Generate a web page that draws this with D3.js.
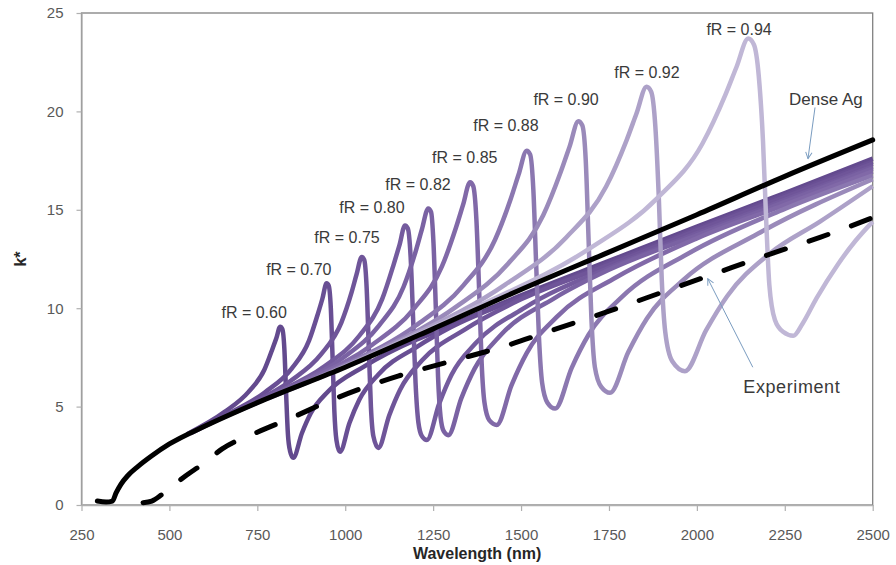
<!DOCTYPE html>
<html>
<head>
<meta charset="utf-8">
<script src="https://cdn.jsdelivr.net/npm/d3@7"></script>
<style>
body { margin: 0; background: #fff; }
text { font-family: "Liberation Sans", Arial, sans-serif; }
</style>
</head>
<body>
<div id="chart"></div>
<script>
// ---- data: [wavelength nm, k*] ----
var xTicks = [250, 500, 750, 1000, 1250, 1500, 1750, 2000, 2250, 2500]
var yTicks = [0, 5, 10, 15, 20, 25]

var denseAg = [[295,0.2],[320,0.15],[338,0.2],[348,0.6],[362,1.05],[382,1.5],[410,1.95],[450,2.5],[500,3.1],[600,4.0],[750,5.2],[1000,7.0],[1250,8.95],[1500,10.95],[1750,12.85],[2000,14.75],[2250,16.7],[2500,18.55]]

var experiment = [[425,0.12],[450,0.2],[480,0.55],[540,1.4],[600,2.15],[650,2.85],[750,3.7],[850,4.45],[950,5.25],[1050,5.95],[1150,6.55],[1300,7.3],[1450,8.05],[1600,8.95],[1750,9.85],[1900,10.8],[2050,11.75],[2200,12.7],[2350,13.6],[2500,14.6]]

var fr060 = [[550,3.6],[657,4.73],[725,5.75],[770,6.87],[792,7.88],[804,8.47],[815,9.06],[821,8.95],[827,7.9],[832,5.6],[837,3.6],[843,2.75],[852,2.4],[877,3.66],[902,4.66],[952,5.78],[1052,7.02],[1202,8.4],[1250,8.75],[1500,10.65],[1750,12.4],[2000,14.15],[2250,15.85],[2500,17.6]]
var fr070 = [[560,3.64],[647,4.45],[772,5.73],[847,6.92],[897,8.35],[922,9.7],[935,10.48],[947,11.27],[953,11.15],[959,10.0],[964,7.5],[969,4.8],[975,3.3],[985,2.7],[1012,4.17],[1040,5.35],[1095,6.65],[1205,8.05],[1300,9.03],[1500,10.55],[1750,12.3],[2000,14.05],[2250,15.75],[2500,17.45]]
var fr075 = [[600,4.02],[699,4.87],[844,6.3],[931,7.65],[989,9.27],[1018,10.8],[1032,11.7],[1047,12.6],[1054,12.45],[1061,11.0],[1067,8.0],[1073,5.0],[1080,3.5],[1094,2.9],[1125,4.55],[1156,5.86],[1218,7.34],[1342,8.94],[1500,10.45],[1750,12.2],[2000,13.95],[2250,15.65],[2500,17.35]]
var fr080 = [[650,4.42],[780,5.51],[942,7.06],[1040,8.6],[1105,10.46],[1137,12.18],[1154,13.19],[1170,14.2],[1178,14.05],[1186,12.6],[1193,9.5],[1200,6.2],[1208,4.2],[1218,3.5],[1232,3.3],[1267,5.14],[1302,6.61],[1372,8.24],[1512,10.04],[1750,12.05],[2000,13.8],[2250,15.5],[2500,17.2]]
var fr082 = [[680,4.66],[816,5.77],[991,7.44],[1096,9.12],[1166,11.09],[1201,12.93],[1218,14.0],[1236,15.07],[1244,14.9],[1251,13.3],[1258,9.8],[1264,6.5],[1271,4.5],[1280,3.75],[1293,3.55],[1330,5.42],[1368,6.93],[1443,8.65],[1593,10.49],[1750,11.95],[2000,13.7],[2250,15.4],[2500,17.1]]
var fr085 = [[720,4.98],[875,6.2],[1075,8.12],[1195,9.97],[1275,12.12],[1315,14.1],[1335,15.25],[1355,16.4],[1364,16.2],[1373,14.5],[1381,10.8],[1388,7.2],[1396,5.2],[1410,4.3],[1431,4.07],[1473,6.09],[1516,7.72],[1601,9.55],[1771,11.57],[2000,13.55],[2250,15.25],[2500,16.95]]
var fr088 = [[780,5.42],[976,6.93],[1201,9.12],[1336,11.16],[1426,13.48],[1471,15.57],[1493,16.79],[1516,18.0],[1526,17.8],[1535,16.0],[1543,12.2],[1551,8.5],[1560,6.2],[1575,5.2],[1597,4.9],[1644,6.97],[1692,8.65],[1787,10.57],[1977,12.79],[2250,15.05],[2500,16.75]]
var fr090 = [[850,5.92],[1063,7.6],[1313,10.04],[1463,12.26],[1563,14.72],[1613,16.93],[1638,18.21],[1663,19.5],[1674,19.3],[1684,17.5],[1692,13.5],[1700,9.5],[1710,7.0],[1728,6.0],[1753,5.7],[1805,7.77],[1858,9.48],[1963,11.46],[2173,13.78],[2500,16.55]]
var fr092 = [[920,6.42],[1167,8.41],[1455,11.2],[1627,13.57],[1742,16.18],[1800,18.53],[1828,19.88],[1857,21.25],[1870,21.0],[1882,19.2],[1892,15.5],[1900,11.5],[1910,8.8],[1930,7.3],[1966,6.8],[2026,8.87],[2086,10.61],[2206,12.76],[2350,14.4],[2500,16.2]]
var fr094 = [[980,6.86],[1366,10.0],[1691,12.99],[1886,15.57],[2016,18.37],[2081,20.84],[2113,22.27],[2146,23.7],[2162,23.4],[2176,21.8],[2188,18.5],[2197,14.5],[2206,11.2],[2222,9.4],[2245,8.8],[2274,8.6],[2300,9.2],[2340,10.5],[2400,12.2],[2450,13.4],[2500,14.4]]

var fRNames = ['fR = 0.60','fR = 0.70','fR = 0.75','fR = 0.80','fR = 0.82','fR = 0.85','fR = 0.88','fR = 0.90','fR = 0.92','fR = 0.94']
var fRSeries = [fr060, fr070, fr075, fr080, fr082, fr085, fr088, fr090, fr092, fr094]

// ---- styling / placement ----
var fRColors = ['#634a8e','#694f94','#6f5599','#745b9e','#7a62a3','#8169a8','#8b77b0','#9a8aba','#ada1c8','#c0b7d6']
// label anchors in data units (wavelength, k*)
var fRLabelPos = [[741,9.81],[868,11.99],[1005,13.62],[1076,15.14],[1207,16.31],[1340,17.68],[1457,19.31],[1628,20.63],[1858,22.0],[2120,24.19]]

var width = 896, height = 565

var x = d3.scaleLinear().domain([250, 2500]).range([81.5, 872.7])
var y = d3.scaleLinear().domain([0, 25]).range([505, 13])

var svg = d3.select('#chart').append('svg')
  .attr('width', width)
  .attr('height', height)

var defs = svg.append('defs')
defs.append('marker')
  .attr('id', 'arrow')
  .attr('viewBox', '0 0 10 10')
  .attr('refX', 9).attr('refY', 5)
  .attr('markerWidth', 8).attr('markerHeight', 8)
  .attr('orient', 'auto')
  .append('path')
  .attr('d', 'M1,1 L9,5 L1,9')
  .attr('fill', 'none')
  .attr('stroke', '#7a9cc0')
  .attr('stroke-width', 1.2)

// plot frame (top & right darker)
svg.append('rect')
  .attr('x', x(250)).attr('y', y(25))
  .attr('width', x(2500) - x(250))
  .attr('height', y(0) - y(25))
  .attr('fill', 'none')
  .attr('stroke', '#808080')
  .attr('stroke-width', 1.3)

var xAxis = d3.axisBottom(x).tickValues(xTicks).tickFormat(d3.format('d')).tickSize(6).tickSizeOuter(0).tickPadding(18)
var yAxis = d3.axisLeft(y).tickValues(yTicks).tickFormat(d3.format('d')).tickSize(5).tickSizeOuter(0).tickPadding(13)

var gx = svg.append('g').attr('transform', 'translate(0,' + y(0) + ')').call(xAxis)
var gy = svg.append('g').attr('transform', 'translate(' + x(250) + ',0)').call(yAxis)

;[gx, gy].forEach(function(g) {
  g.select('.domain').attr('stroke', '#b0b0b0').attr('stroke-width', 1.3)
  g.selectAll('.tick line').attr('stroke', '#b0b0b0').attr('stroke-width', 1.2)
  g.selectAll('.tick text')
    .attr('fill', '#595959')
    .style('font-size', '15px')
    .style('font-family', '"Liberation Sans", Arial, sans-serif')
})

var line = d3.line()
  .x(function(d) { return x(d[0]) })
  .y(function(d) { return y(d[1]) })
  .curve(d3.curveMonotoneX)

svg.append('g').selectAll('path')
  .data(fRSeries)
  .enter()
  .append('path')
  .attr('d', line)
  .attr('fill', 'none')
  .attr('stroke', function(d, i) { return fRColors[i] })
  .attr('stroke-width', 4.5)
  .attr('stroke-linejoin', 'round')

svg.append('path')
  .datum(denseAg)
  .attr('d', line)
  .attr('fill', 'none')
  .attr('stroke', '#000')
  .attr('stroke-width', 5)
  .attr('stroke-linecap', 'round')

svg.append('path')
  .datum(experiment)
  .attr('d', line)
  .attr('fill', 'none')
  .attr('stroke', '#000')
  .attr('stroke-width', 5)
  .attr('stroke-linecap', 'round')
  .attr('stroke-dasharray', '20,25')

// fR labels
svg.append('g').selectAll('text')
  .data(fRNames)
  .enter()
  .append('text')
  .attr('x', function(d, i) { return x(fRLabelPos[i][0]) })
  .attr('y', function(d, i) { return y(fRLabelPos[i][1]) })
  .attr('dy', '0.35em')
  .attr('text-anchor', 'middle')
  .attr('fill', '#3a3a3a')
  .style('font-size', '16px')
  .text(function(d) { return d })

// annotations
svg.append('text')
  .attr('x', x(2367)).attr('y', y(20.63)).attr('dy', '0.35em')
  .attr('text-anchor', 'middle')
  .attr('fill', '#3a3a3a')
  .style('font-size', '17px')
  .text('Dense Ag')

svg.append('line')
  .attr('x1', x(2336)).attr('y1', y(20.2))
  .attr('x2', x(2316)).attr('y2', y(17.6))
  .attr('stroke', '#7a9cc0').attr('stroke-width', 1)
  .attr('marker-end', 'url(#arrow)')

svg.append('text')
  .attr('x', x(2270)).attr('y', y(6.0)).attr('dy', '0.35em')
  .attr('text-anchor', 'middle')
  .attr('fill', '#3a3a3a')
  .style('font-size', '18px')
  .style('letter-spacing', '0.6px')
  .text('Experiment')

svg.append('line')
  .attr('x1', x(2159)).attr('y1', y(7.0))
  .attr('x2', x(2031)).attr('y2', y(11.5))
  .attr('stroke', '#7a9cc0').attr('stroke-width', 1)
  .attr('marker-end', 'url(#arrow)')

// axis titles
svg.append('text')
  .attr('x', (x(250) + x(2500)) / 2)
  .attr('y', 553)
  .attr('dy', '0.35em')
  .attr('text-anchor', 'middle')
  .attr('fill', '#262626')
  .style('font-size', '16px')
  .style('font-weight', 'bold')
  .text('Wavelength (nm)')

svg.append('text')
  .attr('transform', 'translate(20,' + ((y(0) + y(25)) / 2) + ') rotate(-90)')
  .attr('dy', '0.35em')
  .attr('text-anchor', 'middle')
  .attr('fill', '#262626')
  .style('font-size', '16px')
  .style('font-weight', 'bold')
  .text('k*')
</script>
</body>
</html>
